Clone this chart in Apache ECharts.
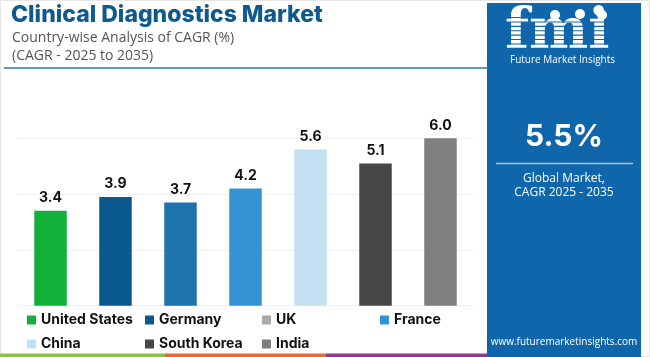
<!DOCTYPE html>
<html>
<head>
<meta charset="utf-8">
<script src="https://cdn.jsdelivr.net/npm/echarts@6/dist/echarts.min.js"></script>
<style>
html,body{margin:0;padding:0;background:#fff;}
#chart{width:650px;height:357px;}
</style>
</head>
<body>
<div id="chart"></div>
<script>
const categories = ['United States','Germany','UK','France','China','South Korea','India'];
const cagrValues = [3.4, 3.9, 3.7, 4.2, 5.6, 5.1, 6.0];
const barColors = ['#12b03a','#0a5a8f','#1f74ad','#3393d3','#c3e0f2','#474747','#7f7f7f'];
const legendIconColors = ['#12b03a','#0a5a8f','#aaaaaa','#3393d3','#c3e0f2','#474747','#7f7f7f'];
const yTicks = [0, 2, 4, 6];

const chart = echarts.init(document.getElementById('chart'), null, {renderer:'canvas'});

const series = categories.map((name, i) => ({
  name: name,
  type: 'bar',
  stack: 'all',
  barWidth: '50%',
  itemStyle: {color: barColors[i]},
  label: {
    show: true, position: 'top', distance: 6,
    formatter: p => p.value === '-' ? '' : Number(p.value).toFixed(1),
    fontFamily: 'Inter', fontWeight: 'bold', fontSize: 14, color: '#111'
  },
  data: categories.map((c, j) => j === i ? cagrValues[i] : '-')
}));

const legendPos = [
  [22, 308], [140, 308], [257, 308], [375, 308],
  [22, 332], [140, 332], [257, 332]
];
const legends = categories.map((name, i) => ({
  data: [{name: name, itemStyle: {color: legendIconColors[i]}}],
  left: legendPos[i][0], top: legendPos[i][1],
  icon: 'rect', itemWidth: 9, itemHeight: 9, itemGap: 0,
  selectedMode: false,
  textStyle: {fontFamily: 'Inter', fontWeight: 'bold', fontSize: 14, color: '#111'}
}));

const panelColor = '#1066aa';
const stripes = [];
for (let k = 0; k < 9; k++) {
  stripes.push({type:'rect', z: 20, shape:{x:506, y:17 + k*4.4, width:118, height:1.1}, style:{fill: panelColor}});
}

chart.setOption({
  animation: false,
  backgroundColor: '#fff',
  grid: {left: 18, right: 177, top: 138.3, bottom: 51.3, containLabel: false},
  xAxis: {
    type: 'category', data: categories,
    axisLine: {show:false}, axisTick: {show:false}, axisLabel: {show:false}
  },
  yAxis: {
    type: 'value', min: yTicks[0], max: yTicks[yTicks.length-1], interval: yTicks[1]-yTicks[0],
    axisLine: {show:false}, axisTick: {show:false}, axisLabel: {show:false},
    splitLine: {lineStyle: {color: '#eef1f4', width: 1}}
  },
  legend: legends,
  series: series,
  graphic: [
    {type:'rect', shape:{x:0.5, y:0.5, width:649, height:356}, style:{fill:'none', stroke:'#e6e6e6', lineWidth:1}},
    {type:'text', left: 11, top: 4, style:{text:'Clinical Diagnostics Market', fill:'#0e5a8e', font:'800 23px Inter'}},
    {type:'text', left: 12, top: 31, style:{text:'Country-wise Analysis of CAGR (%)', fill:'#555', font:'14px "Open Sans"'}},
    {type:'text', left: 12, top: 49, style:{text:'(CAGR - 2025 to 2035)', fill:'#555', font:'14px "Open Sans"'}},
    {type:'line', shape:{x1:4, y1:68, x2:487, y2:68}, style:{stroke:'#2f739f', lineWidth:1.5}},
    {type:'rect', shape:{x:487, y:3, width:154, height:354}, style:{fill: panelColor}},
    {type:'text', left: 505, top: 5, z: 10, style:{text:'fmi', fill:'#fff', font:'bold 56px "DejaVu Serif"'}},
    ...stripes,
    {type:'circle', z: 30, shape:{cx:555, cy:15, r:5}, style:{fill:'#fff'}},
    {type:'circle', z: 30, shape:{cx:580, cy:14, r:5}, style:{fill:'#fff'}},
    {type:'circle', z: 30, shape:{cx:602, cy:15, r:5}, style:{fill:'#fff'}},
    {type:'text', z: 30, left: 510, top: 55, style:{text:'Future Market Insights', fill:'#fff', font:'10px "Open Sans"'}},
    {type:'text', z: 30, x: 564, y: 137, style:{text:'5.5%', fill:'#fff', font:'bold 30px Inter', align:'center', verticalAlign:'middle'}},
    {type:'line', z: 30, shape:{x1:496, y1:163.5, x2:633, y2:163.5}, style:{stroke:'#a9c9e6', lineWidth:1.5}},
    {type:'text', z: 30, x: 564, y: 179, style:{text:'Global Market,', fill:'#fff', font:'12px "Open Sans"', align:'center', verticalAlign:'middle'}},
    {type:'text', z: 30, x: 564, y: 193, style:{text:'CAGR 2025 - 2035', fill:'#fff', font:'12px "Open Sans"', align:'center', verticalAlign:'middle'}},
    {type:'text', z: 30, x: 564, y: 342, style:{text:'www.futuremarketinsights.com', fill:'#fff', font:'10px "Open Sans"', align:'center', verticalAlign:'middle'}},
    {type:'rect', shape:{x:0, y:353.5, width:165, height:3.5}, style:{fill:'#8bc34a'}},
    {type:'rect', shape:{x:165, y:353.5, width:161, height:3.5}, style:{fill:'#e8693a'}},
    {type:'rect', shape:{x:326, y:353.5, width:161, height:3.5}, style:{fill:'#8e3a8e'}}
  ]
});
</script>
</body>
</html>
